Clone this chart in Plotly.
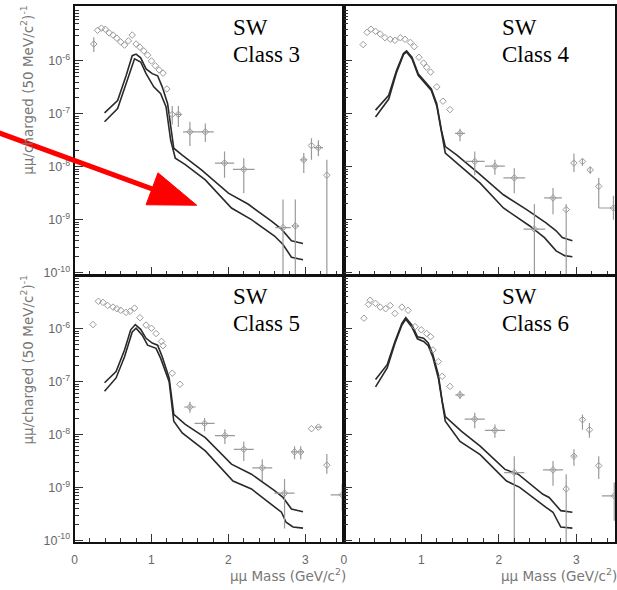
import numpy as np
import plotly.graph_objects as go

W, H = 617, 590

# values are log10 of mumu/charged per 50 MeV/c^2, x is mumu mass in GeV/c^2

# SW Class 3 (top left)
c3_up_x = [0.39, 0.56, 0.67, 0.75, 0.80, 0.86, 0.93, 1.01, 1.08, 1.14, 1.21, 1.27, 1.29, 1.40, 1.65, 2.00, 2.26, 2.56, 2.69, 2.82, 2.97]
c3_up_y = [-6.98, -6.75, -6.28, -5.90, -5.87, -5.94, -6.15, -6.24, -6.28, -6.49, -6.81, -7.43, -7.65, -7.78, -8.06, -8.50, -8.71, -9.03, -9.18, -9.40, -9.45]
c3_lo_x = [0.39, 0.56, 0.67, 0.78, 0.86, 0.93, 1.03, 1.12, 1.19, 1.25, 1.31, 1.44, 1.70, 2.04, 2.30, 2.60, 2.71, 2.82, 2.97]
c3_lo_y = [-7.15, -6.90, -6.43, -5.96, -6.02, -6.24, -6.49, -6.62, -6.87, -7.50, -7.84, -7.96, -8.25, -8.78, -9.00, -9.31, -9.47, -9.71, -9.76]
c3_pts_x = [0.30, 0.35, 0.40, 0.45, 0.50, 0.55, 0.60, 0.65, 0.70, 0.75, 0.80, 0.85, 0.90, 0.95, 1.00, 1.05, 1.10, 1.15, 1.20]
c3_pts_y = [-5.42, -5.38, -5.40, -5.47, -5.51, -5.57, -5.64, -5.70, -5.62, -5.51, -5.68, -5.74, -5.81, -5.89, -6.00, -6.09, -6.17, -6.23, -6.53]
c3_err_x = [0.25, 1.27, 1.35, 1.50, 1.70, 1.95, 2.20, 2.71, 2.87, 2.98, 3.08, 3.17, 3.28]
c3_err_y = [-5.68, -7.01, -7.01, -7.34, -7.34, -7.93, -8.05, -9.15, -9.12, -7.87, -7.60, -7.64, -8.16]
c3_err_dx = [0.0, 0.0, 0.04, 0.09, 0.11, 0.125, 0.14, 0.10, 0.05, 0.04, 0.0, 0.06, 0.0]
c3_err_lo = [-5.83, -7.20, -7.25, -7.61, -7.53, -8.21, -8.50, -10.5, -10.5, -8.12, -7.87, -7.80, -10.5]
c3_err_hi = [-5.55, -6.85, -6.85, -7.15, -7.18, -7.71, -7.84, -8.62, -8.62, -7.74, -7.46, -7.50, -7.87]

# SW Class 4 (top right)
c4_up_x = [0.41, 0.58, 0.68, 0.77, 0.81, 0.88, 0.96, 1.05, 1.13, 1.20, 1.26, 1.31, 1.46, 1.76, 2.06, 2.36, 2.61, 2.74, 2.82, 2.95]
c4_up_y = [-6.93, -6.65, -6.18, -5.86, -5.81, -5.93, -6.24, -6.40, -6.53, -6.81, -7.31, -7.62, -7.78, -8.15, -8.53, -8.81, -9.06, -9.21, -9.34, -9.40]
c4_lo_x = [0.41, 0.58, 0.68, 0.77, 0.81, 0.88, 0.96, 1.05, 1.13, 1.20, 1.26, 1.31, 1.46, 1.76, 2.06, 2.40, 2.59, 2.74, 2.85, 2.95]
c4_lo_y = [-7.06, -6.72, -6.22, -5.88, -5.83, -5.96, -6.27, -6.43, -6.56, -6.85, -7.37, -7.74, -7.93, -8.31, -8.78, -9.12, -9.34, -9.59, -9.68, -9.70]
c4_pts_x = [0.25, 0.30, 0.35, 0.41, 0.47, 0.53, 0.60, 0.66, 0.73, 0.79, 0.86, 0.91, 0.97, 1.03, 1.07, 1.12, 1.20, 1.28, 1.37]
c4_pts_y = [-5.69, -5.46, -5.40, -5.44, -5.49, -5.56, -5.59, -5.61, -5.56, -5.59, -5.65, -5.73, -5.93, -6.04, -6.12, -6.21, -6.49, -6.76, -6.92]
c4_err_x = [1.50, 1.69, 1.95, 2.20, 2.46, 2.70, 2.87, 2.97, 3.08, 3.18, 3.29, 3.48]
c4_err_y = [-7.37, -7.90, -7.99, -8.21, -9.18, -8.59, -8.81, -7.93, -7.90, -8.06, -8.37, -8.78]
c4_err_dx = [0.064, 0.128, 0.128, 0.14, 0.14, 0.115, 0.0, 0.0, 0.0, 0.0, 0.0, 0.19]
c4_err_lo = [-7.52, -8.16, -8.15, -8.50, -10.5, -8.90, -10.5, -8.10, -7.98, -8.13, -8.78, -9.00]
c4_err_hi = [-7.28, -7.71, -7.87, -8.03, -8.71, -8.40, -8.71, -7.75, -7.85, -8.00, -8.21, -8.55]

# SW Class 5 (bottom left)
c5_up_x = [0.39, 0.54, 0.65, 0.73, 0.79, 0.86, 0.93, 1.01, 1.08, 1.14, 1.23, 1.29, 1.44, 1.70, 2.04, 2.30, 2.60, 2.71, 2.82, 2.97]
c5_up_y = [-7.02, -6.81, -6.40, -6.02, -5.92, -6.01, -6.18, -6.27, -6.31, -6.53, -6.93, -7.62, -7.81, -8.06, -8.56, -8.75, -9.06, -9.19, -9.41, -9.46]
c5_lo_x = [0.39, 0.54, 0.65, 0.75, 0.80, 0.88, 0.95, 1.06, 1.12, 1.23, 1.29, 1.40, 1.70, 2.06, 2.30, 2.60, 2.69, 2.75, 2.84, 2.97]
c5_lo_y = [-7.18, -6.93, -6.53, -6.06, -5.99, -6.12, -6.31, -6.37, -6.56, -7.00, -7.75, -7.97, -8.31, -8.88, -9.03, -9.38, -9.47, -9.66, -9.75, -9.77]
c5_pts_x = [0.24, 0.31, 0.37, 0.43, 0.50, 0.55, 0.60, 0.67, 0.72, 0.78, 0.85, 0.93, 1.00, 1.06, 1.13, 1.15, 1.27, 1.37]
c5_pts_y = [-5.92, -5.48, -5.50, -5.56, -5.59, -5.62, -5.65, -5.69, -5.67, -5.61, -5.79, -5.93, -5.99, -6.09, -6.24, -6.32, -6.84, -7.05]
c5_err_x = [1.50, 1.69, 1.955, 2.20, 2.44, 2.73, 2.86, 2.94, 3.08, 3.17, 3.28, 3.48]
c5_err_y = [-7.48, -7.79, -8.02, -8.28, -8.63, -9.11, -8.33, -8.33, -7.89, -7.86, -8.58, -9.14]
c5_err_dx = [0.075, 0.13, 0.13, 0.13, 0.13, 0.13, 0.04, 0.04, 0.0, 0.04, 0.0, 0.15]
c5_err_lo = [-7.59, -7.94, -8.18, -8.50, -8.88, -9.78, -8.47, -8.47, -7.89, -7.86, -8.74, -9.44]
c5_err_hi = [-7.38, -7.69, -7.90, -8.13, -8.47, -8.84, -8.22, -8.22, -7.89, -7.86, -8.37, -8.93]

# SW Class 6 (bottom right)
c6_up_x = [0.41, 0.56, 0.66, 0.75, 0.80, 0.88, 0.95, 1.03, 1.09, 1.15, 1.22, 1.27, 1.31, 1.52, 1.76, 2.08, 2.25, 2.57, 2.65, 2.80, 2.95]
c6_up_y = [-6.96, -6.68, -6.24, -5.90, -5.79, -5.93, -6.15, -6.18, -6.27, -6.49, -6.87, -7.37, -7.66, -7.94, -8.22, -8.66, -8.75, -9.13, -9.19, -9.44, -9.47]
c6_lo_x = [0.41, 0.56, 0.66, 0.75, 0.80, 0.88, 0.95, 1.03, 1.09, 1.15, 1.22, 1.27, 1.31, 1.50, 1.76, 2.10, 2.27, 2.61, 2.70, 2.80, 2.95]
c6_lo_y = [-7.10, -6.74, -6.28, -5.93, -5.82, -5.97, -6.19, -6.24, -6.32, -6.54, -6.93, -7.42, -7.75, -8.13, -8.38, -8.88, -9.00, -9.38, -9.47, -9.75, -9.77]
c6_pts_x = [0.26, 0.32, 0.34, 0.41, 0.47, 0.54, 0.60, 0.66, 0.75, 0.83, 0.92, 1.00, 1.07, 1.12, 1.15, 1.22, 1.27, 1.37]
c6_pts_y = [-5.80, -5.54, -5.46, -5.52, -5.59, -5.62, -5.56, -5.71, -5.59, -5.65, -5.96, -6.02, -6.09, -6.15, -6.40, -6.62, -6.90, -7.09]
c6_err_x = [1.50, 1.69, 1.95, 2.20, 2.70, 2.87, 2.97, 3.08, 3.17, 3.29, 3.49]
c6_err_y = [-7.25, -7.71, -7.92, -8.72, -8.67, -9.03, -8.41, -7.72, -7.91, -8.59, -9.16]
c6_err_dx = [0.06, 0.13, 0.13, 0.13, 0.13, 0.0, 0.02, 0.0, 0.0, 0.0, 0.16]
c6_err_lo = [-7.33, -7.88, -8.06, -10.5, -8.97, -10.5, -8.59, -7.91, -8.06, -8.84, -9.63]
c6_err_hi = [-7.17, -7.59, -7.81, -8.41, -8.50, -8.75, -8.28, -7.62, -7.78, -8.41, -8.91]

decades = [-10, -9, -8, -7, -6]
x_ticks = [0, 1, 2, 3]


def lin(v):
    return np.power(10.0, np.asarray(v, dtype=float))


def err_segments(x, y, dx, lo, hi):
    xs, ys = [], []
    for xi, yi, dxi, l, h in zip(x, y, dx, lo, hi):
        if dxi > 0:
            xs += [xi - dxi, xi + dxi, None]
            ys += [10 ** yi, 10 ** yi, None]
        if h > l:
            xs += [xi, xi, None]
            ys += [10 ** l, 10 ** h, None]
    return xs, ys


panels = [
    dict(label='Class 3', up=(c3_up_x, c3_up_y), lo=(c3_lo_x, c3_lo_y), pts=(c3_pts_x, c3_pts_y),
         err=(c3_err_x, c3_err_y, c3_err_dx, c3_err_lo, c3_err_hi)),
    dict(label='Class 4', up=(c4_up_x, c4_up_y), lo=(c4_lo_x, c4_lo_y), pts=(c4_pts_x, c4_pts_y),
         err=(c4_err_x, c4_err_y, c4_err_dx, c4_err_lo, c4_err_hi)),
    dict(label='Class 5', up=(c5_up_x, c5_up_y), lo=(c5_lo_x, c5_lo_y), pts=(c5_pts_x, c5_pts_y),
         err=(c5_err_x, c5_err_y, c5_err_dx, c5_err_lo, c5_err_hi)),
    dict(label='Class 6', up=(c6_up_x, c6_up_y), lo=(c6_lo_x, c6_lo_y), pts=(c6_pts_x, c6_pts_y),
         err=(c6_err_x, c6_err_y, c6_err_dx, c6_err_lo, c6_err_hi)),
]

# pixel frames of the four pads: (left, right, top, bottom)
frames = [(72, 343, 6, 277), (343, 616, 6, 277), (72, 343, 278, 547), (343, 616, 278, 547)]

curve_col = '#2a2a2a'
data_col = '#9a9a9a'
fig = go.Figure()
layout = dict(width=W, height=H, margin=dict(l=0, r=0, t=0, b=0),
              paper_bgcolor='white', plot_bgcolor='white', showlegend=False,
              font=dict(family='Liberation Sans', color='#666666'))
annotations = []

minor_y = [k * 10.0 ** e for e in range(-11, -4) for k in range(2, 10)]

for i, p in enumerate(panels):
    sfx = '' if i == 0 else str(i + 1)
    xa, ya = 'x' + sfx, 'y' + sfx
    l, r, t, b = frames[i]
    left_col = i in (0, 2)
    bottom_row = i in (2, 3)

    for key in ('up', 'lo'):
        cx, cy = p[key]
        fig.add_trace(go.Scatter(x=cx, y=lin(cy), mode='lines', xaxis=xa, yaxis=ya,
                                 line=dict(color=curve_col, width=1.6)))
    ex, ey = err_segments(*p['err'])
    fig.add_trace(go.Scatter(x=ex, y=ey, mode='lines', xaxis=xa, yaxis=ya,
                             line=dict(color=data_col, width=1.2)))
    mx = list(p['pts'][0]) + list(p['err'][0])
    my = list(p['pts'][1]) + list(p['err'][1])
    fig.add_trace(go.Scatter(x=mx, y=lin(my), mode='markers', xaxis=xa, yaxis=ya,
                             marker=dict(symbol='diamond-open', size=5, color=data_col,
                                         line=dict(width=1, color=data_col))))

    layout['xaxis' + sfx] = dict(
        domain=[l / W, r / W], anchor=ya, range=[0, 3.5],
        tickmode='array', tickvals=x_ticks, ticks='inside', ticklen=8, tickcolor='#333',
        minor=dict(ticks='inside', ticklen=4, dtick=0.2, tick0=0, tickcolor='#333'),
        showticklabels=bottom_row, tickfont=dict(size=12, color='#666'), ticklabelstandoff=5,
        showgrid=False, zeroline=False, showline=True, linecolor='#111', linewidth=2, mirror=True)
    layout['yaxis' + sfx] = dict(
        domain=[1 - b / H, 1 - t / H], anchor=xa, type='log',
        range=[-10.04, -4.96] if i < 2 else [-10.04, -4.995],
        tickmode='array', tickvals=[10.0 ** d for d in decades],
        ticktext=['10<sup>%d</sup>' % d for d in decades],
        ticks='inside', ticklen=8, tickcolor='#333',
        minor=dict(ticks='inside', ticklen=4, tickmode='array', tickvals=minor_y, tickcolor='#333'),
        showticklabels=left_col, tickfont=dict(size=12.5, color='#666'),
        showgrid=False, zeroline=False, showline=True, linecolor='#111', linewidth=2, mirror=True)

    tx = 229 if left_col else 500
    ty = 28 if i < 2 else 299
    annotations.append(dict(text='SW', xref='paper', yref='paper', x=tx / W, y=1 - ty / H,
                            xanchor='left', yanchor='middle', showarrow=False,
                            font=dict(family='Liberation Serif', size=23, color='black')))
    annotations.append(dict(text=p['label'], xref='paper', yref='paper', x=tx / W, y=1 - (ty + 27) / H,
                            xanchor='left', yanchor='middle', showarrow=False,
                            font=dict(family='Liberation Serif', size=23, color='black')))
    if left_col:
        annotations.append(dict(text='μμ/charged (50 MeV/c<sup>2</sup>)<sup>-1</sup>',
                                xref='paper', yref='paper', x=24 / W, y=1 - (t - 3) / H,
                                xanchor='center', yanchor='top', textangle=-90, showarrow=False,
                                font=dict(family='DejaVu Sans', size=13.5, color='#777')))
    if bottom_row:
        annotations.append(dict(text='μμ Mass (GeV/c<sup>2</sup>)', xref='paper', yref='paper',
                                x=(r + 4) / W, y=1 - 580 / H, xanchor='right', yanchor='middle',
                                showarrow=False, font=dict(family='DejaVu Sans', size=13.5, color='#777')))


def px(x):
    return x / W


def py(y):
    return 1 - y / H


# red arrow drawn over the top-left pad
shapes = [
    dict(type='line', xref='paper', yref='paper', x0=px(-4), y0=py(134), x1=px(150), y1=py(190.4),
         line=dict(color='#ff0000', width=5), layer='above'),
    dict(type='path', xref='paper', yref='paper', layer='above', fillcolor='#ff0000',
         line=dict(color='#ff0000', width=1),
         path='M %f %f L %f %f L %f %f Z' % (px(144), py(206.5), px(156), py(174.3), px(195), py(207))),
]

layout['annotations'] = annotations
layout['shapes'] = shapes
fig.update_layout(layout)
fig.write_html("out.html", config={'displayModeBar': False},
               post_script="document.body.style.margin='0';")
